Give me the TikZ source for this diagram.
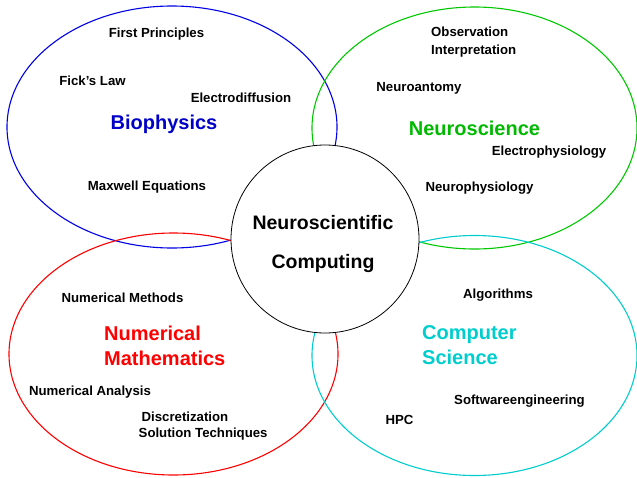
\documentclass[tikz,border=0pt]{standalone}
\usepackage{fontspec}
\setmainfont{Liberation Sans}
\definecolor{cblue}{RGB}{0,0,230}
\definecolor{tblue}{RGB}{0,0,200}
\definecolor{cgreen}{RGB}{0,200,0}
\definecolor{tgreen}{RGB}{0,185,0}
\definecolor{ccyan}{RGB}{0,205,205}
\definecolor{cred}{RGB}{255,0,0}
\begin{document}
\begin{tikzpicture}[x=1pt,y=-1pt,
  ring/.style={draw,line width=1.1pt},
  item/.style={font=\fontsize{13.2}{15}\bfseries\selectfont,inner sep=0pt,anchor=center},
  head/.style={font=\fontsize{20}{25}\bfseries\selectfont,inner sep=0pt,align=left},
  core/.style={circle,draw=black,fill=white,line width=0.8pt,minimum size=188pt,inner sep=0pt},
  coretext/.style={align=center,inner sep=0pt,font=\fontsize{19.5}{39}\bfseries\selectfont}]
\useasboundingbox (0,0) rectangle (637,477);
% sets
\draw[ring,cblue] (172,127) ellipse [x radius=165, y radius=121];
\draw[ring,cgreen] (474.5,128) ellipse [x radius=162.5, y radius=121];
\draw[ring,cred] (173.5,354) ellipse [x radius=164.5, y radius=121];
\draw[ring,ccyan] (474.5,355.5) ellipse [x radius=162.5, y radius=120];
% centre
\node[core] (nc) at (325,239) {};
\node[coretext] (nct) at (323,244) {Neuroscientific\\Computing};
% Biophysics
\node[head,text=tblue] (bio) at (164,124) {Biophysics};
\node[item] (fp) at (156.5,34) {First Principles};
\node[item] (fl) at (92.5,81) {Fick’s Law};
\node[item] (ed) at (241,98) {Electrodiffusion};
\node[item] (me) at (147,187) {Maxwell Equations};
% Neuroscience
\node[head,text=tgreen] (neu) at (474.5,128) {Neuroscience};
\node[item,anchor=west] (ob) at (431,32) {Observation};
\node[item,anchor=west] (ip) at (431,51) {Interpretation};
\node[item] (na) at (419,88) {Neuroantomy};
\node[item] (ep) at (549,152) {Electrophysiology};
\node[item] (np) at (479.5,188.5) {Neurophysiology};
% Numerical Mathematics
\node[head,text=cred,anchor=west] (nm) at (104,346) {Numerical\\Mathematics};
\node[item] (nme) at (122.5,297.5) {Numerical Methods};
\node[item] (nan) at (90,392) {Numerical Analysis};
\node[item,anchor=west] (di) at (141.5,416.5) {Discretization};
\node[item,anchor=west] (st) at (138.5,434) {Solution Techniques};
% Computer Science
\node[head,text=ccyan,anchor=west] (cs) at (422,345) {Computer\\Science};
\node[item] (al) at (498,295) {Algorithms};
\node[item] (sw) at (519.5,401) {Softwareengineering};
\node[item] (hpc) at (399.5,419.5) {HPC};
\end{tikzpicture}
\end{document}
